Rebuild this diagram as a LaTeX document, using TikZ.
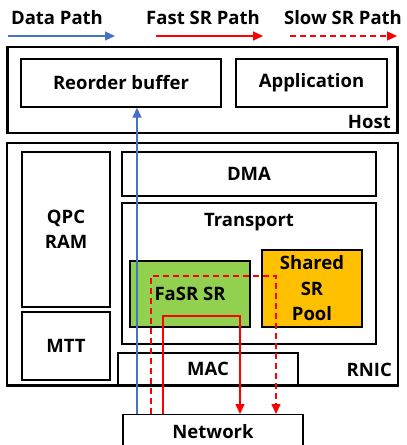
\documentclass[tikz,border=0pt]{standalone}
\usepackage{fontspec}
\setmainfont{Open Sans}
\usetikzlibrary{arrows.meta}

\definecolor{datablue}{HTML}{4472C4}
\definecolor{srred}{HTML}{FF0000}
\definecolor{fasrgreen}{HTML}{92D050}
\definecolor{poolorange}{HTML}{FFC000}

\tikzset{
  frame/.style={draw, line width=2.4pt},
  unit/.style={draw, line width=1.4pt, align=center},
  lbl/.style={font=\fontsize{18.5}{25.5}\selectfont\bfseries, inner sep=0pt, align=center},
  datapath/.style={datablue, line width=1.2pt, -{Triangle[length=10pt,width=9pt]}},
  fastpath/.style={srred, line width=1.4pt, -{Triangle[length=10pt,width=9pt]}},
  slowpath/.style={fastpath, dash pattern=on 6pt off 4pt}
}

\begin{document}
\begin{tikzpicture}[x=1pt, y=-1pt, font=\fontsize{18.5}{25.5}\selectfont\bfseries]
\useasboundingbox (0,0) rectangle (407,445);

% legend
\node [lbl] (lgdata) at (57,18) {Data Path};
\node [lbl] (lgfast) at (203,18) {Fast SR Path};
\node [lbl] (lgslow) at (343,18) {Slow SR Path};
\coordinate (d0) at (8,36);   \coordinate (d1) at (115,36);
\coordinate (f0) at (156,36); \coordinate (f1) at (263,36);
\coordinate (s0) at (290,36); \coordinate (s1) at (397,36);
\draw [datapath] (d0) -- (d1);
\draw [fastpath] (f0) -- (f1);
\draw [slowpath] (s0) -- (s1);

% host side
\node [frame, minimum width=390pt, minimum height=86pt] (host) at (202.5,90) {};
\node [lbl, anchor=east] (hostlbl) at (391,122) {Host};
\node [unit, minimum width=200pt, minimum height=48pt] (rob) at (121,83) {Reorder buffer};
\node [unit, minimum width=151pt, minimum height=48pt] (app) at (311.5,83) {Application};

% RNIC side
\node [frame, minimum width=391pt, minimum height=242pt] (rnic) at (202.5,264) {};
\node [lbl, anchor=east] (rniclbl) at (392,370) {RNIC};
\node [unit, minimum width=88pt, minimum height=155pt] (qpc) at (66,229.5) {QPC\\RAM};
\node [unit, minimum width=88pt, minimum height=68pt] (mtt) at (66,346) {MTT};
\node [unit, minimum width=254pt, minimum height=44pt] (dma) at (249,174) {DMA};
\node [unit, minimum width=254pt, minimum height=141pt] (trans) at (249,273.5) {};
\node [lbl] (translbl) at (249,222) {Transport};
\node [unit, fill=fasrgreen, minimum width=120pt, minimum height=66pt] (fasr) at (190,294) {FaSR SR};
\node [unit, fill=poolorange, minimum width=100pt, minimum height=77pt] (pool) at (312,288.5) {Shared\\SR\\Pool};
\node [unit, minimum width=180pt, minimum height=32pt, fill=white] (mac) at (208,369) {MAC};
\draw [line width=2.4pt] (rnic.south west) -- (rnic.south east);

% network below the card
\node [unit, minimum width=180pt, minimum height=44pt, anchor=north] (net) at (213,414) {};
\node [lbl] (netlbl) at (213,432) {Network};

% paths
\coordinate (slowturn) at (276,276);
\coordinate (fastturn) at (240,316);
\draw [datapath] ([xshift=-76pt]net.north) -- ([xshift=16pt]rob.south);
\draw [slowpath] ([xshift=-62pt]net.north) |- (slowturn) -- (slowturn |- net.north);
\draw [fastpath] ([xshift=-50pt]net.north) |- (fastturn) -- (fastturn |- net.north);

\end{tikzpicture}
\end{document}
